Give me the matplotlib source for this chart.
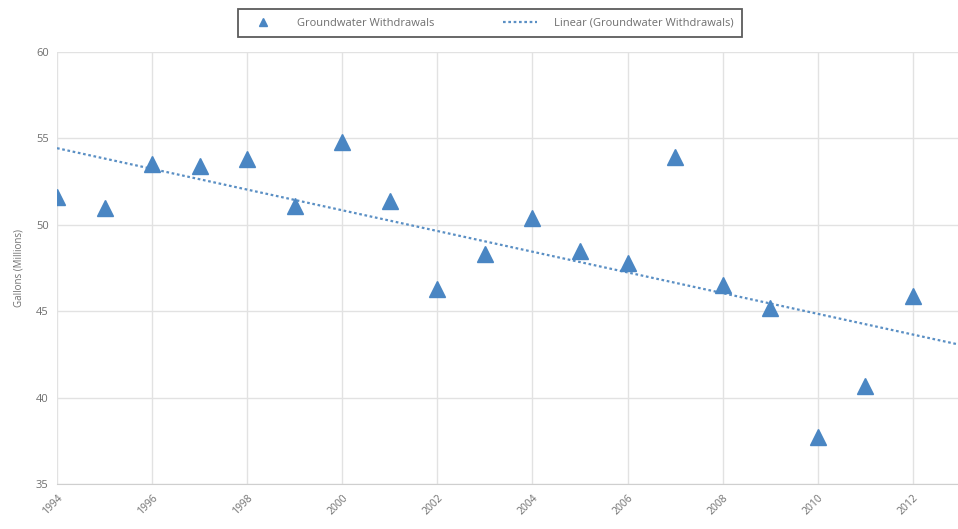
import numpy as np
import matplotlib.pyplot as plt

# ───── Data ─────────────────────────────────────────────
years = np.arange(1994, 2013)
withdrawals = [51.6, 51.0, 53.5, 53.4, 53.8, 51.1, 54.8, 51.4, 46.3, 48.3,
               50.4, 48.5, 47.8, 53.9, 46.5, 45.2, 37.7, 40.7, 45.9]
xticks = list(range(1994, 2013, 2))
yticks = [35, 40, 45, 50, 55, 60]

plt.rcParams['font.family'] = ['Open Sans', 'DejaVu Sans']
blue = '#4a86c3'
grey = '#6f6f6f'

fig = plt.figure(figsize=(9.58, 5.29), dpi=100)
ax = fig.add_axes([57/958, 45/529, 1 - 57/958, (484-52)/529])

# linear trend line
slope, icpt = np.polyfit(years, withdrawals, 1)
xt = np.array([1994, 2013])
ax.plot(xt, slope*xt + icpt, ls=(0, (1.2, 1.2)), lw=1.6, color='#5a8fc4',
        label='Linear (Groundwater Withdrawals)', zorder=2)
ax.plot(years, withdrawals, ls='none', marker='^', ms=11, color=blue,
        label='Groundwater Withdrawals', zorder=3)

ax.set_xlim(1994, 2012.95)
ax.set_ylim(35, 60)
ax.set_xticks(xticks)
ax.set_yticks(yticks)
ax.set_xticklabels([str(x) for x in xticks], rotation=45, ha='right',
                   rotation_mode='anchor', fontsize=7.5, color=grey)
ax.set_yticklabels([str(y) for y in yticks], fontsize=8, color=grey)
ax.tick_params(length=0, pad=6)
ax.grid(True, color='#e2e2e2', lw=1)
ax.set_axisbelow(True)
for s in ['top', 'right', 'left']:
    ax.spines[s].set_visible(False)
ax.spines['bottom'].set_color('#cfcfcf')
ax.set_ylabel('Gallons (Millions)', fontsize=7, color=grey, labelpad=8)

h, l = ax.get_legend_handles_labels()
leg = fig.legend(h[::-1], l[::-1], loc='center', ncol=2,
                 bbox_to_anchor=(490/958, 1 - 23/529), fontsize=8,
                 frameon=True, fancybox=False, edgecolor='#333333',
                 handlelength=3.0, handletextpad=1.6, columnspacing=6.2,
                 borderpad=0.75, borderaxespad=0, markerscale=0.5)
leg.get_frame().set_linewidth(1.3)
for t in leg.get_texts():
    t.set_color(grey)

fig.savefig('out.png', dpi=100)
